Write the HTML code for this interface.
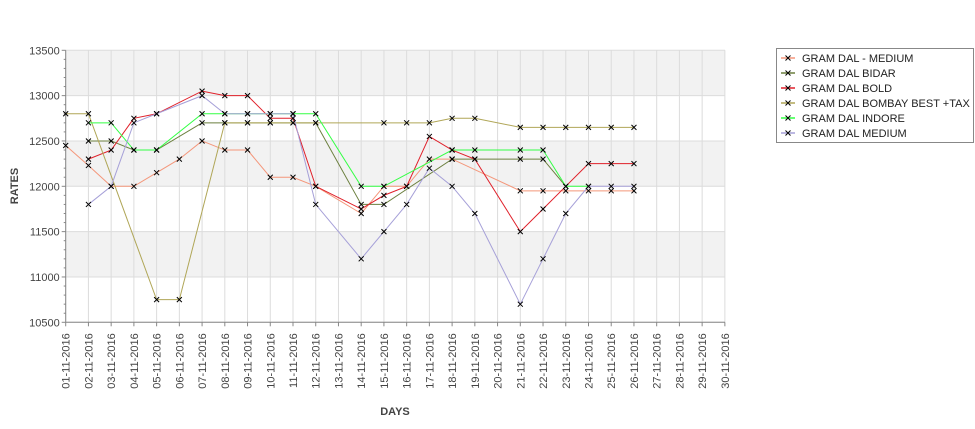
<!DOCTYPE html>
<html><head><meta charset="utf-8"><style>
html,body{margin:0;padding:0;background:#fff;}
svg{display:block;font-family:"Liberation Sans",sans-serif;}
</style></head><body>
<svg id="c" width="975" height="429" xmlns="http://www.w3.org/2000/svg"></svg>
<script>
const L=65.7,T=50.3,B=322.3,R=725,dx=22.73;
const X=d=>L+(d-1)*dx, Y=v=>T+(13500-v)/3000*(B-T);
let s='';
[[13500,13000],[12500,12000],[11500,11000]].forEach(b=>{s+=`<rect x="${L}" y="${Y(b[0])}" width="${R-L}" height="${Y(b[1])-Y(b[0])}" fill="#f2f2f2"/>`;});
for(let v=10500;v<=13500;v+=500)s+=`<line x1="${L}" x2="${R}" y1="${Y(v)}" y2="${Y(v)}" stroke="#dcdcdc" stroke-width="1"/>`;
for(let d=1;d<=30;d++)s+=`<line x1="${X(d)}" x2="${X(d)}" y1="${T}" y2="${B}" stroke="#dcdcdc" stroke-width="1"/>`;
s+=`<line x1="${L}" x2="${L}" y1="${T}" y2="${B}" stroke="#888"/><line x1="${L}" x2="${R}" y1="${B}" y2="${B}" stroke="#888"/>`;
for(let v=10500;v<=13500;v+=100){const maj=v%500==0;s+=`<line x1="${L-(maj?4:2)}" x2="${L}" y1="${Y(v)}" y2="${Y(v)}" stroke="#888"/>`;
 if(maj)s+=`<text x="${L-6}" y="${Y(v)+4}" font-size="11" fill="#444" text-anchor="end">${v}</text>`;}
for(let d=1;d<=30;d++){const dd=String(d).padStart(2,'0');s+=`<line x1="${X(d)}" x2="${X(d)}" y1="${B}" y2="${B+4}" stroke="#888"/><text transform="translate(${X(d)+4},${B+11}) rotate(-90)" font-size="11" fill="#444" text-anchor="end">${dd}-11-2016</text>`;}
s+=`<text x="395" y="415" font-size="11" font-weight="bold" fill="#444" text-anchor="middle">DAYS</text>`;
s+=`<text transform="translate(18,186) rotate(-90)" font-size="11" font-weight="bold" fill="#444" text-anchor="middle">RATES</text>`;
const S=[
['#f4967a',[[1,12450],[2,12230],[3,12000],[4,12000],[5,12150],[6,12300],[7,12500],[8,12400],[9,12400],[10,12100],[11,12100],[12,12000],[14,11700],[15,12000],[16,12000],[17,12300],[18,12300],[21,11950],[22,11950],[23,11950],[24,11950],[25,11950],[26,11950]]],
['#6b7f3e',[[2,12500],[3,12500],[4,12400],[5,12400],[7,12700],[8,12700],[9,12700],[10,12700],[11,12700],[12,12700],[14,11800],[15,11800],[18,12300],[19,12300],[21,12300],[22,12300],[23,12000]]],
['#e0202a',[[2,12300],[3,12400],[4,12750],[5,12800],[7,13050],[8,13000],[9,13000],[10,12750],[11,12750],[12,12000],[14,11750],[15,11900],[16,12000],[17,12550],[18,12400],[19,12300],[21,11500],[22,11750],[23,12000],[24,12250],[25,12250],[26,12250]]],
['#b0a657',[[1,12800],[2,12800],[5,10750],[6,10750],[8,12700],[9,12700],[10,12700],[11,12700],[12,12700],[15,12700],[16,12700],[17,12700],[18,12750],[19,12750],[21,12650],[22,12650],[23,12650],[24,12650],[25,12650],[26,12650]]],
['#33ff44',[[2,12700],[3,12700],[4,12400],[5,12400],[7,12800],[8,12800],[9,12800],[10,12800],[11,12800],[12,12800],[14,12000],[15,12000],[18,12400],[19,12400],[21,12400],[22,12400],[23,12000],[24,12000]]],
['#a6a0d8',[[2,11800],[3,12000],[4,12700],[5,12800],[7,13000],[8,12800],[9,12800],[10,12800],[11,12800],[12,11800],[14,11200],[15,11500],[16,11800],[17,12200],[18,12000],[19,11700],[21,10700],[22,11200],[23,11700],[24,12000],[25,12000],[26,12000]]]];
const mk=(x,y)=>`<path d="M${x-2.5} ${y-2.5}L${x+2.5} ${y+2.5}M${x-2.5} ${y+2.5}L${x+2.5} ${y-2.5}" stroke="#000" stroke-width="1"/>`;
S.forEach(([c,p])=>{s+=`<polyline fill="none" stroke="${c}" stroke-width="1" points="${p.map(q=>X(q[0])+','+Y(q[1])).join(' ')}"/>`;});
S.forEach(([c,p])=>{p.forEach(q=>s+=mk(X(q[0]),Y(q[1])));});
s+=`<rect x="776.5" y="48.5" width="197" height="94" fill="#fff" stroke="#888"/>`;
const names=['GRAM DAL - MEDIUM','GRAM DAL BIDAR','GRAM DAL BOLD','GRAM DAL BOMBAY BEST +TAX','GRAM DAL INDORE','GRAM DAL MEDIUM'];
names.forEach((n,i)=>{const y=58+i*15;s+=`<line x1="781" x2="795" y1="${y}" y2="${y}" stroke="${S[i][0]}" stroke-width="1.5"/>`+mk(788,y)+`<text x="802" y="${y+4}" font-size="11" fill="#222">${n}</text>`;});
document.getElementById('c').innerHTML=s;
</script>
</body></html>
